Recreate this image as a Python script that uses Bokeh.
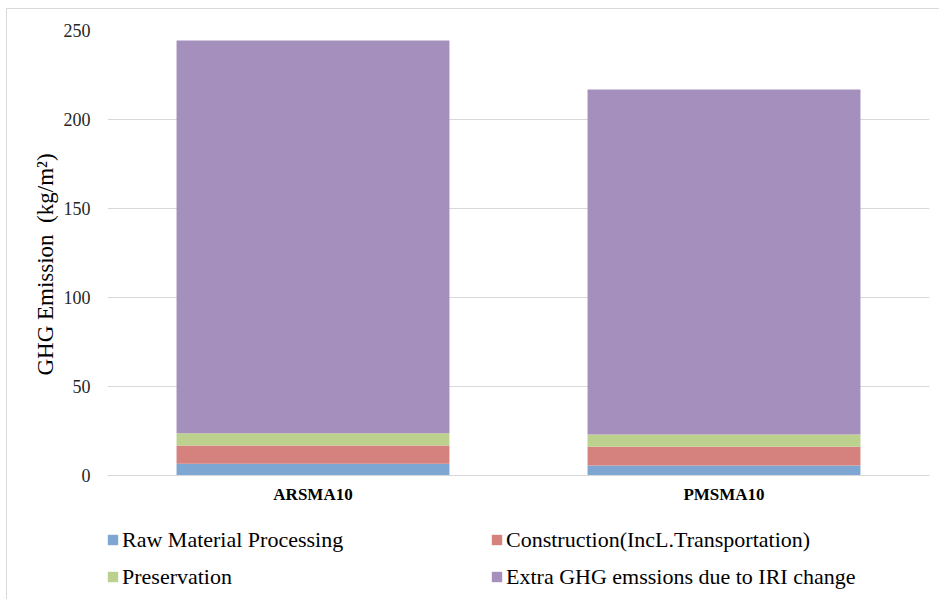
from bokeh.plotting import figure
from bokeh.layouts import column
from bokeh.models import Legend, LegendItem, FixedTicker
from bokeh.embed import file_html
from bokeh.resources import INLINE

categories = ["ARSMA10", "PMSMA10"]
series_names = ["Raw Material Processing", "Construction(IncL.Transportation)",
                "Preservation", "Extra GHG emssions due to IRI change"]
raw_material = [6.6, 5.6]
construction = [10.3, 10.5]
preservation = [6.9, 6.9]
extra_ghg = [220.6, 193.9]
y_ticks = [0, 50, 100, 150, 200, 250]

colors = ["#7ea6d2", "#d5817e", "#bcd18e", "#a48fbd"]
keys = ["raw", "cons", "pres", "extra"]
data = {"cat": categories, "raw": raw_material, "cons": construction,
        "pres": preservation, "extra": extra_ghg}

FONT = "Liberation Serif"

p = figure(x_range=categories, y_range=(0, 250), width=933, height=505,
           output_backend="svg", toolbar_location=None,
           min_border_left=100, min_border_right=11, min_border_top=21,
           min_border_bottom=39)
p.outline_line_color = None

rs = p.vbar_stack(keys, x="cat", width=0.664, color=colors, source=data, line_color=None)

p.xgrid.grid_line_color = None
p.ygrid.grid_line_color = "#d9d9d9"
p.ygrid.ticker = FixedTicker(ticks=y_ticks)
p.yaxis.ticker = FixedTicker(ticks=y_ticks)
p.yaxis.axis_line_color = None
p.yaxis.major_tick_line_color = None
p.yaxis.minor_tick_line_color = None
p.yaxis.major_label_text_font = FONT
p.yaxis.major_label_text_font_size = "18px"
p.yaxis.major_label_text_color = "#262626"
p.yaxis.major_label_standoff = 11
p.yaxis.axis_label = "GHG Emission\u00a0\u00a0(kg/m²)\u00a0\u00a0\u00a0\u00a0"
p.yaxis.axis_label_text_font = FONT
p.yaxis.axis_label_text_font_size = "23px"
p.yaxis.axis_label_text_font_style = "normal"
p.yaxis.axis_label_text_color = "#000000"
p.yaxis.axis_label_standoff = 3

p.xaxis.axis_line_color = "#d9d9d9"
p.xaxis.major_tick_line_color = None
p.xaxis.minor_tick_line_color = None
p.xaxis.major_label_text_font = FONT
p.xaxis.major_label_text_font_size = "17px"
p.xaxis.major_label_text_font_style = "bold"
p.xaxis.major_label_text_color = "#000000"
p.xaxis.major_label_standoff = 3

# legend panel: a frame-only figure holding the legend (swatches sit outside its range)
lp = figure(width=933, height=85, x_range=(0, 1), y_range=(0, 1),
            output_backend="svg", toolbar_location=None,
            x_axis_type=None, y_axis_type=None,
            min_border_left=0, min_border_right=0, min_border_top=0, min_border_bottom=0)
lp.outline_line_color = None
lp.xgrid.visible = False
lp.ygrid.visible = False
swatches = [lp.vbar(x=[-5], top=[0], bottom=[0], width=0.5, color=c, line_color=None)
            for c in colors]

# column-major fill: column 1 = raw, preservation; column 2 = construction, extra
order = [0, 2, 1, 3]
items = [LegendItem(label=series_names[i], renderers=[swatches[i]]) for i in order]
legend = Legend(items=items, ncols=2, location=(-1, 7),
                glyph_width=13, glyph_height=13, label_standoff=3,
                label_width=362, label_height=31, spacing=6,
                padding=0, margin=0, border_line_color=None,
                background_fill_alpha=0,
                label_text_font=FONT, label_text_font_size="22px",
                label_text_color="#000000")
lp.add_layout(legend, "center")

layout = column(p, lp, margin=(8, 0, 0, 6),
                styles={"border-left": "1px solid #d9d9d9", "border-top": "1px solid #d9d9d9"})

open("out.html", "w").write(file_html(layout, INLINE))
